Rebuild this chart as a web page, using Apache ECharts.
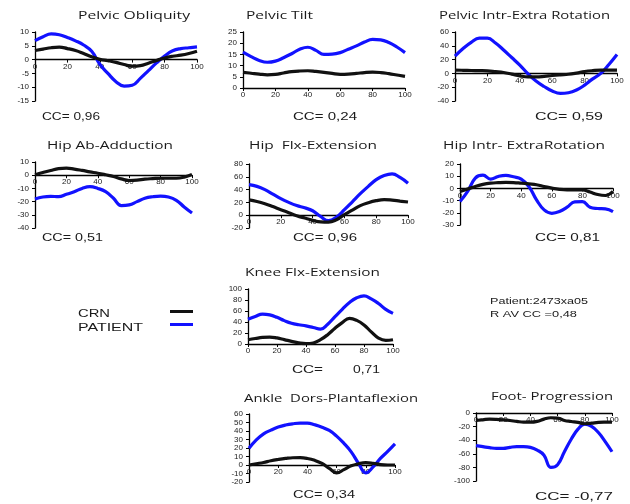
<!DOCTYPE html>
<html><head><meta charset="utf-8">
<script src="https://cdn.jsdelivr.net/npm/echarts@6/dist/echarts.min.js"></script>
<style>html,body{margin:0;padding:0;background:#fff}#c{width:630px;height:504px}</style>
</head><body><div id="c"></div>
<script>
// ---- data (gait cycle %, joint angles in degrees) ----
const gaitCycle = [0,5,10,15,20,25,30,35,40,45,50,55,60,65,70,75,80,85,90,95,100];

const pelvicObliquityCRN     = [3.3,3.8,4.3,4.5,4.0,3.3,2.2,1.0,0.1,-0.4,-1.0,-1.8,-2.4,-2.2,-1.3,-0.3,0.6,1.2,1.6,2.2,3.0];
const pelvicObliquityPatient = [6.9,8.3,9.3,9.0,8.0,6.8,5.3,3.0,-1.7,-5.0,-8.0,-9.6,-9.3,-6.8,-4.0,-1.2,1.3,3.2,4.0,4.3,4.6];

const pelvicTiltCRN     = [7,6.6,6.2,5.9,6.1,6.7,7.3,7.6,7.7,7.4,7.0,6.5,6.1,6.2,6.5,6.9,7.1,6.9,6.4,5.8,5.2];
const pelvicTiltPatient = [16,14,12.3,11.5,12,13.5,15.3,17.3,18.2,16.8,15.0,15.1,15.8,17.3,18.8,20.5,21.7,21.5,20.3,18.3,15.8];

const pelvicRotationCRN     = [4.7,4.5,4.2,4,3.7,2.6,1.3,-1,-3.5,-5,-5,-4.3,-3,-2,-1.2,0.5,2.7,4,4.7,4.7,4.7];
const pelvicRotationPatient = [25,36,45,51,51,44,34,23,12,-0.5,-11,-19,-25.5,-29,-28,-24,-17,-8,0,13,27.5];

const hipAbductionCRN     = [0.3,2,3.6,5,5.3,4.6,3.6,2.5,1.5,0.3,-1,-2.8,-4,-3.8,-3,-2.6,-2.3,-2.3,-2.3,-1.5,0.5];
const hipAbductionPatient = [-18,-16.5,-16,-16.3,-14.5,-12.5,-10,-8.7,-10,-12.5,-17.5,-23,-22.5,-20,-17.5,-16.3,-15.8,-16.5,-19,-24,-28.6];

const hipFlexionCRN     = [24,21.5,18,13.5,8.6,4,-0.7,-4.5,-8,-10.5,-10.8,-7,0.8,8,15,19.5,22.7,24.3,23.5,22,20.6];
const hipFlexionPatient = [47.7,45,40,33,26,20,15,11.5,7,-2,-8.5,-3,8.6,21,33.6,45,55.5,62,64.5,59,50];

const hipRotationCRN     = [-2.5,-0.5,1.6,3.3,4.3,4.7,4.9,4.8,4.3,3.7,3,1.6,0.2,-0.8,-1.2,-1.2,-1.2,-3,-5,-5.8,-2.5];
const hipRotationPatient = [-10.8,-2.5,8.5,10.8,7.6,9.8,10.7,9.5,7.6,1.6,-9.4,-17.6,-20.4,-19,-15.4,-11,-10.8,-15.4,-16.5,-16.8,-19];

const kneeFlexionCRN     = [7.8,10,12,12.6,11,8,4.8,2,0.6,1.8,7.8,17,28.7,39,46.5,43,34.7,22,10.8,6.6,7.8];
const kneeFlexionPatient = [45,50,54.5,53,48.5,42.5,37.7,35,33,30,27,36,49.7,63,75.4,84,87.5,82,73.7,63,55.7];

const ankleCRN     = [0,1.5,3,5,6.5,7.7,8.5,8.6,7.7,5.5,1.8,-4,-9.3,-5.5,-1,1.5,2.8,2,0.5,0,0];
const anklePatient = [19.6,29.5,36.6,41,44.6,47,48.5,49.3,49.3,47.3,44.5,40.6,34,25.5,15.5,2,-9.3,-2.2,7.7,16,24.8];

const footProgressionCRN     = [-11,-10,-9,-9.3,-10,-11,-12.4,-13.5,-13.5,-12.3,-9,-7,-7.5,-11,-12.5,-13.9,-15.8,-14.9,-13.9,-13.5,-13.4];
const footProgressionPatient = [-48,-49.5,-51,-52,-52,-50.5,-49.5,-49.5,-50.5,-54.5,-62,-80,-76,-57,-38.6,-23.8,-16.3,-19.8,-28.7,-42,-57];

const panelTitles = ['Pelvic Obliquity','Pelvic Tilt','Pelvic Intr-Extra Rotation','Hip Ab-Adduction','Hip  Flx-Extension','Hip Intr- ExtraRotation','Knee Flx-Extension','Ankle  Dors-Plantaflexion','Foot- Progression'];
const ccLabels = ['CC= 0,96','CC= 0,24','CC= 0,59','CC= 0,51','CC= 0,96','CC= 0,81',null,'CC= 0,34','CC= -0,77'];
const yMins = [-15,0,-40,-40,-20,-30,0,-20,-100];
const yMaxs = [10,25,60,10,80,20,100,60,0];
const ySteps = [5,5,20,10,20,10,20,10,20];
const seriesNames = ['CRN','PATIENT'];

const crnData = [pelvicObliquityCRN,pelvicTiltCRN,pelvicRotationCRN,hipAbductionCRN,hipFlexionCRN,hipRotationCRN,kneeFlexionCRN,ankleCRN,footProgressionCRN];
const patData = [pelvicObliquityPatient,pelvicTiltPatient,pelvicRotationPatient,hipAbductionPatient,hipFlexionPatient,hipRotationPatient,kneeFlexionPatient,anklePatient,footProgressionPatient];

// ---- layout ----
const grids = [
  {left:35, top:32, width:162, height:69},
  {left:243,top:32, width:162, height:56},
  {left:455,top:32, width:162, height:69},
  {left:35, top:162,width:157, height:66},
  {left:249,top:164,width:159, height:64},
  {left:460,top:164,width:153, height:61},
  {left:248,top:289,width:145, height:55},
  {left:249,top:414,width:146, height:68},
  {left:476,top:413,width:136, height:68}
];
const titlePos = [[78,16,112],[246,16,67],[439,16,171],[47,146,126],[249,146,128],[443,146,162],[245,273,135],[244,399,174],[491,397,122]];
const ccPos = [[42,117,58],[293,117,64],[535,117,68],[42,238,61],[293,238,64],[535,238,65],null,[293,495,62],[535,497,78]];

const BLUE = '#1212ff', BLACK = '#111111';
const mctx = document.createElement('canvas').getContext('2d');
function stretched(text, x, y, w, size, family, weight) {
  weight = weight || 'normal';
  mctx.font = weight + ' ' + size + 'px ' + family;
  const m = mctx.measureText(text).width;
  return {type:'text', x:x, y:y, scaleX: w / m, silent:true,
    style:{text:text, fontSize:size, fontFamily:family, fontWeight:weight, fill:'#1a1a1a',
           textAlign:'left', textVerticalAlign:'middle'}};
}

const option = {
  animation:false,
  backgroundColor:'#ffffff',
  grid: grids.map(g => Object.assign({containLabel:false, outerBoundsMode:'none', show:false}, g)),
  xAxis: grids.map((g,i) => ({
    type:'value', gridIndex:i, min:0, max:100, interval:20, position:'bottom',
    // place the category axis on the zero line of its panel
    offset: -g.height * (0 - yMins[i]) / (yMaxs[i] - yMins[i]),
    axisLine:{show:true, onZero:false, lineStyle:{color:'#000', width:1.3}},
    axisTick:{show:true, length:3, lineStyle:{color:'#000'}},
    axisLabel:{fontSize:8, fontFamily:'Liberation Sans', color:'#222', margin:3},
    splitLine:{show:false}
  })),
  yAxis: grids.map((g,i) => ({
    type:'value', gridIndex:i, min:yMins[i], max:yMaxs[i], interval:ySteps[i],
    axisLine:{show:true, onZero:false, lineStyle:{color:'#000', width:1.3}},
    axisTick:{show:true, length:3, lineStyle:{color:'#000'}},
    axisLabel:{fontSize:8, fontFamily:'Liberation Sans', color:'#222', margin:6},
    splitLine:{show:false}
  })),
  legend: [
    {data:[seriesNames[0]], left:170, top:310, itemWidth:23, itemHeight:3, icon:'rect', formatter:()=>'', textStyle:{fontSize:3}, padding:0},
    {data:[seriesNames[1]], left:170, top:323, itemWidth:23, itemHeight:3, icon:'rect', formatter:()=>'', textStyle:{fontSize:3}, padding:0}
  ],
  series: [],
  graphic: []
};

for (let i = 0; i < grids.length; i++) {
  [crnData[i], patData[i]].forEach((arr, k) => {
    option.series.push({
      type:'line', name:seriesNames[k], xAxisIndex:i, yAxisIndex:i,
      data: gaitCycle.map((x, j) => [x, arr[j]]),
      smooth:0.45, showSymbol:false, symbol:'none',
      lineStyle:{width:3.2, color: k === 0 ? BLACK : BLUE},
      itemStyle:{color: k === 0 ? BLACK : BLUE},
      z: k === 0 ? 3 : 2
    });
  });
  const t = titlePos[i];
  option.graphic.push(stretched(panelTitles[i], t[0], t[1], t[2], 11, 'Open Sans'));
  if (ccLabels[i]) {
    const c = ccPos[i];
    option.graphic.push(stretched(ccLabels[i], c[0], c[1], c[2], 10.5, 'Liberation Sans'));
  }
}
// knee CC split text
option.graphic.push(stretched('CC=', 292, 370, 31, 10.5, 'Liberation Sans'));
option.graphic.push(stretched('0,71', 353, 370, 27, 10.5, 'Liberation Sans'));
// legend labels
option.graphic.push(stretched('CRN', 78, 314, 32, 11, 'Liberation Sans'));
option.graphic.push(stretched('PATIENT', 78, 328, 65, 11, 'Liberation Sans'));
// patient info
option.graphic.push(stretched('Patient:2473xa05', 490, 301, 98, 9.5, 'Liberation Sans'));
option.graphic.push(stretched('R AV CC =0,48', 490, 314, 87, 9.5, 'Liberation Sans'));

const chart = echarts.init(document.getElementById('c'), null, {renderer:'canvas'});
chart.setOption(option);
</script></body></html>
